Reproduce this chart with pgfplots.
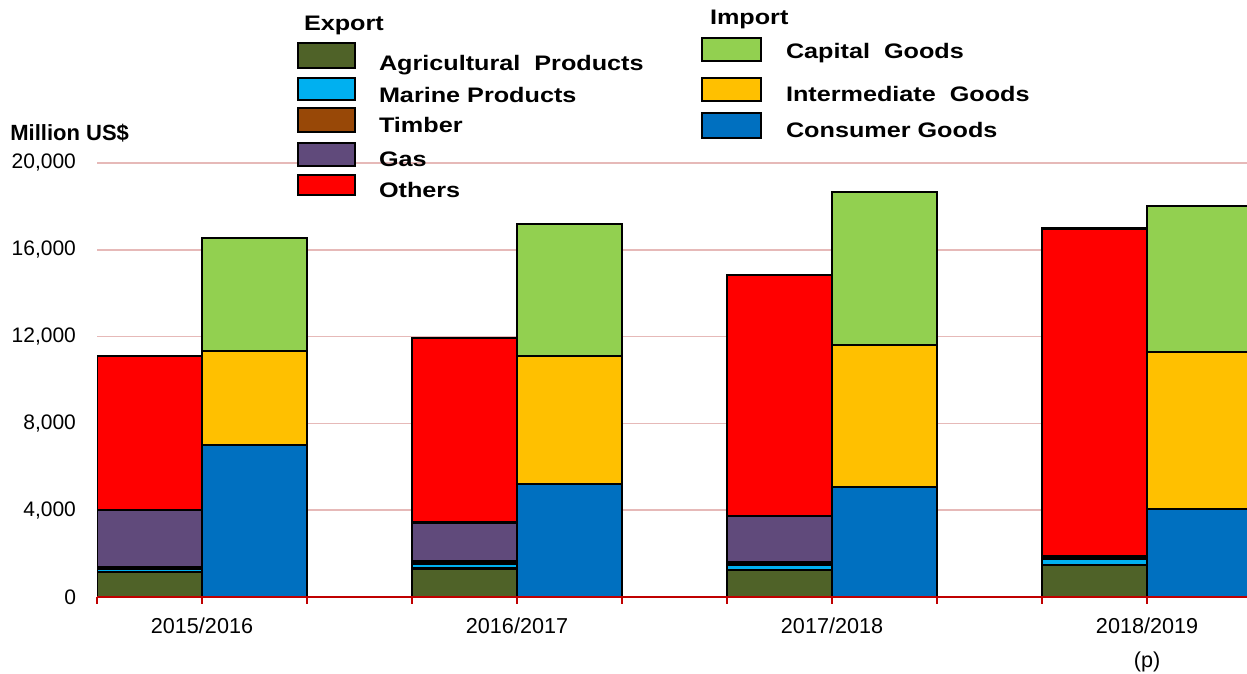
\documentclass[border=0pt]{standalone}
\usepackage{fontspec}
\setmainfont{Liberation Sans}
\newfontfamily\legfont{Liberation Sans}[FakeStretch=1.2]
\usepackage{pgfplots}
\usepackage{pgfplotstable}
\pgfplotsset{compat=1.18}
\definecolor{agri}{HTML}{4F6228}
\definecolor{marine}{HTML}{00B0F0}
\definecolor{timber}{HTML}{984807}
\definecolor{gas}{HTML}{604A7B}
\definecolor{others}{HTML}{FF0000}
\definecolor{capital}{HTML}{92D050}
\definecolor{interm}{HTML}{FFC000}
\definecolor{consumer}{HTML}{0070C0}
\definecolor{gridc}{HTML}{E6B9B8}
\definecolor{axisred}{HTML}{C00000}

\pgfplotstableread{
x    agri  marine timber gas  others
0.5  1150  150    80     2620 7100
3.5  1320  230    100    1790 8500
6.5  1240  250    120    2120 11110
9.5  1470  300    125    0    15100
}\exporttab

\pgfplotstableread{
x     consumer interm capital
1.5   7000     4340   5200
4.5   5200     5900   6090
7.5   5060     6550   7050
10.5  4060     7230   6730
}\importtab

\begin{document}
\begin{tikzpicture}
\path[use as bounding box] (0,0) rectangle (623.5pt,337pt);
\pgfplotsset{
  common/.style={
    at={(48.5pt,38.5pt)}, anchor=south west,
    scale only axis, width=575pt, height=217pt,
    xmin=0, xmax=10.952, ymin=0, ymax=20000,
    ybar stacked, bar width=1,
    every axis plot/.append style={draw=black, line width=1.3pt},
  }
}
\begin{axis}[common,
  axis x line*=bottom, axis y line*=left,
  y axis line style={draw=none},
  x axis line style={draw=axisred, line width=1.4pt},
  ytick={0,4000,...,20000},
  scaled y ticks=false,
  yticklabel style={/pgf/number format/1000 sep={,}, /pgf/number format/assume math mode=true, font=\fontsize{10.5}{12}\selectfont, xshift=-3.5pt},
  ytick style={draw=none},
  ymajorgrids, major grid style={draw=gridc, line width=0.8pt},
  xtick={0,...,10},
  xticklabels={,2015/2016,,,2016/2017,,,2017/2018,,,2018/2019\\[4pt](p)},
  xticklabel style={font=\fontsize{10.8}{13}\selectfont, align=center, yshift=-3.5pt},
  tick align=outside,
  major tick length=3.5pt,
  xtick style={draw=axisred, line width=1pt},
]
\addplot[fill=agri] table[x=x,y=agri]{\exporttab};
\addplot[fill=marine] table[x=x,y=marine]{\exporttab};
\addplot[fill=timber] table[x=x,y=timber]{\exporttab};
\addplot[fill=gas] table[x=x,y=gas]{\exporttab};
\addplot[fill=others] table[x=x,y=others]{\exporttab};
\end{axis}
\begin{axis}[common, hide axis]
\addplot[fill=consumer] table[x=x,y=consumer]{\importtab};
\addplot[fill=interm] table[x=x,y=interm]{\importtab};
\addplot[fill=capital] table[x=x,y=capital]{\importtab};
\end{axis}
\draw[axisred, line width=1.4pt] (48.5pt,38.5pt) -- (623.5pt,38.5pt);

% legend
\begin{scope}[line width=1pt]
\node[anchor=base west, inner sep=0pt, font=\legfont\bfseries\fontsize{10.5}{12}\selectfont] at (151.5pt,321.5pt) {Export};
\draw[fill=agri]   (149pt,315.5pt) rectangle (177.5pt,303pt);
\draw[fill=marine] (149pt,298pt) rectangle (177.5pt,287pt);
\draw[fill=timber] (149pt,283pt) rectangle (177.5pt,271pt);
\draw[fill=gas]    (149pt,265.5pt) rectangle (177.5pt,254pt);
\draw[fill=others] (149pt,249.5pt) rectangle (177.5pt,239.5pt);
\begin{scope}[every node/.style={anchor=base west, inner sep=0pt, font=\legfont\bfseries\fontsize{10.5}{12}\selectfont}]
\node at (189pt,301.5pt) {Agricultural\ \ Products};
\node at (189pt,285.5pt) {Marine Products};
\node at (189pt,270.5pt) {Timber};
\node at (189pt,253.5pt) {Gas};
\node at (189pt,238pt) {Others};
\node at (354.5pt,324.5pt) {Import};
\node at (392.5pt,307.5pt) {Capital\ \ Goods};
\node at (392.5pt,286pt) {Intermediate\ \ Goods};
\node at (392.5pt,268pt) {Consumer Goods};
\end{scope}
\draw[fill=capital]  (351pt,318pt) rectangle (380.5pt,306.5pt);
\draw[fill=interm]   (351pt,298pt) rectangle (380.5pt,286.5pt);
\draw[fill=consumer] (351pt,280.5pt) rectangle (380.5pt,268pt);
\end{scope}
\node[anchor=base west, inner sep=0pt, font=\bfseries\fontsize{11}{13}\selectfont] at (5pt,266.5pt) {Million US\$};
\end{tikzpicture}
\end{document}
